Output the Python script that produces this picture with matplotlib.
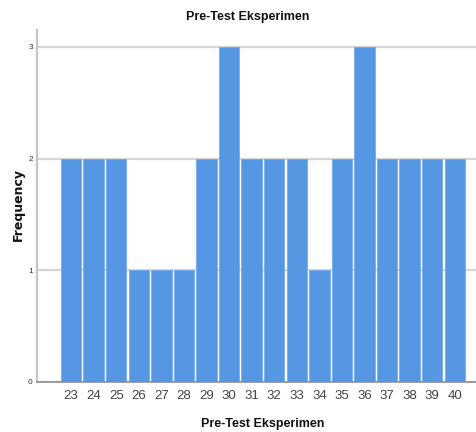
import matplotlib
matplotlib.use("Agg")
import matplotlib.pyplot as plt
from matplotlib import font_manager

names = {f.name for f in font_manager.fontManager.ttflist}
fam = ['Liberation Sans Narrow', 'Liberation Sans'] if 'Liberation Sans Narrow' in names else ['Liberation Sans']
plt.rcParams['font.family'] = fam

categories = [23, 24, 25, 26, 27, 28, 29, 30, 31, 32, 33, 34, 35, 36, 37, 38, 39, 40]
frequency = [2, 2, 2, 1, 1, 1, 2, 3, 2, 2, 2, 1, 2, 3, 2, 2, 2, 2]
yticks = [0, 1, 2, 3]
title = "Pre-Test Eksperimen"
xlabel = "Pre-Test Eksperimen"
ylabel = "Frequency"

W, H = 476, 432
fig = plt.figure(figsize=(W / 100, H / 100), dpi=100)
ax = fig.add_axes([37 / W, 50 / H, 1 - 37 / W, (382 - 30) / H])

ax.bar(categories, frequency, width=0.91, color='#5597E3', edgecolor='#6AA6EC',
       linewidth=0.5, zorder=3)

ax.set_xlim(21.49, 40.94)
ax.set_ylim(0, 3.15)
ax.set_yticks(yticks)
ax.set_xticks(categories)
ax.set_xticklabels([str(c) for c in categories])
ax.grid(axis='y', color='#D6D6D6', linewidth=1.6, zorder=0)
ax.set_axisbelow(True)

for s in ['top', 'right']:
    ax.spines[s].set_visible(False)
ax.spines['left'].set_color('#C4C4C4')
ax.spines['left'].set_linewidth(1.6)
ax.spines['bottom'].set_color('#8C8C8C')
ax.spines['bottom'].set_linewidth(1.2)

ax.tick_params(axis='x', length=0, pad=6, labelsize=9.5, labelcolor='#444444')
ax.tick_params(axis='y', length=0, pad=3, labelsize=6, labelcolor='#333333')

fig.text(248 / W, 1 - 17 / H, title, ha='center', va='center', fontsize=9,
         fontweight='bold', color='#111111')
fig.text(263 / W, 1 - 424 / H, xlabel, ha='center', va='center', fontsize=9,
         fontweight='bold', color='#111111')
fig.text(18 / W, 1 - 205 / H, ylabel, ha='center', va='center', fontsize=9,
         fontweight='bold', rotation=90, color='#111111', family='DejaVu Sans')

fig.savefig('out.png', dpi=100)
